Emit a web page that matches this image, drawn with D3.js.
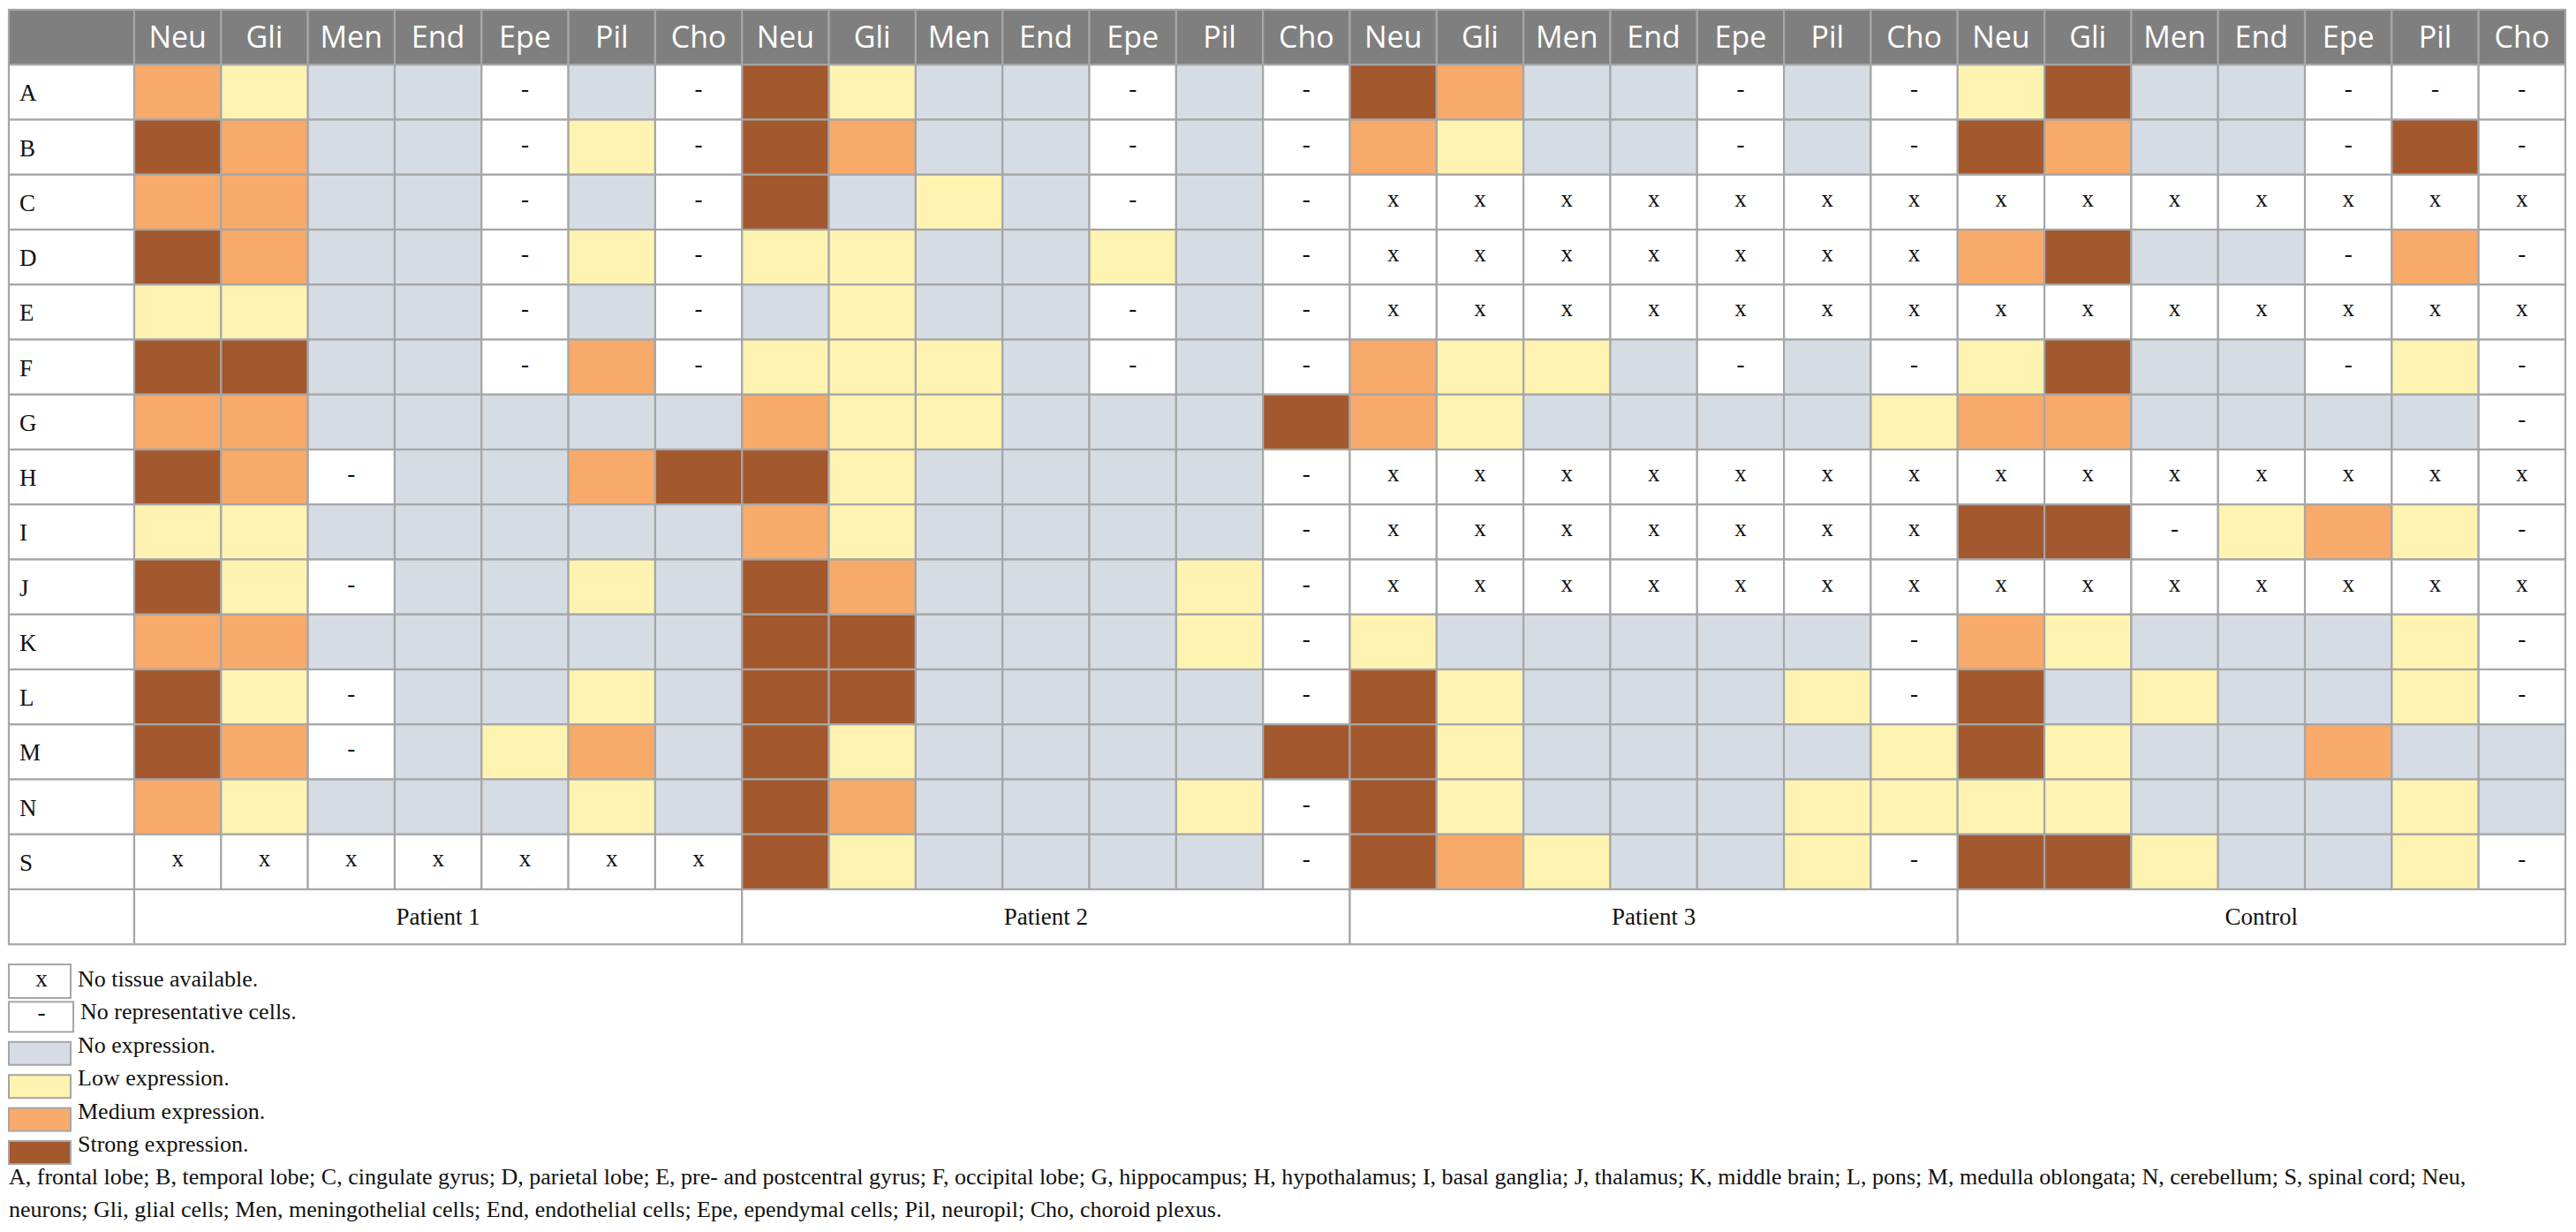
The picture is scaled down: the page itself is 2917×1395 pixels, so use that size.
<!DOCTYPE html>
<html>
<head>
<meta charset="utf-8">
<script src="https://cdn.jsdelivr.net/npm/d3@7"></script>
<style>
  body { margin: 0; background: #fff; }
  svg { display: block; }
</style>
</head>
<body>
<div id="table-div"></div>
<script>
// Table data
const regions = ['A', 'B', 'C', 'D', 'E', 'F', 'G', 'H', 'I', 'J', 'K', 'L', 'M', 'N', 'S'];
const cellTypes = ['Neu', 'Gli', 'Men', 'End', 'Epe', 'Pil', 'Cho'];
const groups = ['Patient 1', 'Patient 2', 'Patient 3', 'Control'];

// one string per region, one letter per cell type
// S strong, M medium, L low, N none, - no representative cells, x no tissue
const patient1 = ['MLNN-N-', 'SMNN-L-', 'MMNN-N-', 'SMNN-L-', 'LLNN-N-', 'SSNN-M-', 'MMNNNNN',
  'SM-NNMS', 'LLNNNNN', 'SL-NNLN', 'MMNNNNN', 'SL-NNLN', 'SM-NLMN', 'MLNNNLN', 'xxxxxxx'];
const patient2 = ['SLNN-N-', 'SMNN-N-', 'SNLN-N-', 'LLNNLN-', 'NLNN-N-', 'LLLN-N-', 'MLLNNNS',
  'SLNNNN-', 'MLNNNN-', 'SMNNNL-', 'SSNNNL-', 'SSNNNN-', 'SLNNNNS', 'SMNNNL-', 'SLNNNN-'];
const patient3 = ['SMNN-N-', 'MLNN-N-', 'xxxxxxx', 'xxxxxxx', 'xxxxxxx', 'MLLN-N-', 'MLNNNNL',
  'xxxxxxx', 'xxxxxxx', 'xxxxxxx', 'LNNNNN-', 'SLNNNL-', 'SLNNNNL', 'SLNNNLL', 'SMLNNL-'];
const control = ['LSNN---', 'SMNN-S-', 'xxxxxxx', 'MSNN-M-', 'xxxxxxx', 'LSNN-L-', 'MMNNNN-',
  'xxxxxxx', 'SS-LML-', 'xxxxxxx', 'MLNNNL-', 'SNLNNL-', 'SLNNMNN', 'LLNNNLN', 'SSLNNL-'];

const levelCodes = ['x', '-', 'N', 'L', 'M', 'S'];
const levelLabels = ['No tissue available.', 'No representative cells.', 'No expression.',
  'Low expression.', 'Medium expression.', 'Strong expression.'];

const footnotes = [
  'A, frontal lobe; B, temporal lobe; C, cingulate gyrus; D, parietal lobe; E, pre- and postcentral gyrus; F, occipital lobe; G, hippocampus; H, hypothalamus; I, basal ganglia; J, thalamus; K, middle brain; L, pons; M, medulla oblongata; N, cerebellum; S, spinal cord; Neu,',
  'neurons; Gli, glial cells; Men, meningothelial cells; End, endothelial cells; Epe, ependymal cells; Pil, neuropil; Cho, choroid plexus.'
];

// Layout constants
const WIDTH = 2917;
const HEIGHT = 1395;
const TABLE = { left: 10, top: 11, labelWidth: 142, right: 2905, rowHeight: 62.25 };
const GRID = '#a6a6a6';
const HEADER_FILL = '#7f7f7f';
const SERIF = '"Liberation Serif", "DejaVu Serif", serif';
const SANS = '"Open Sans", "Noto Sans", sans-serif';

setup();

function setup() {
  const svg = d3.select('#table-div')
    .append('svg')
    .attr('width', WIDTH)
    .attr('height', HEIGHT);

  const groupData = [patient1, patient2, patient3, control];

  const colour = d3.scaleOrdinal()
    .domain(levelCodes)
    .range(['#ffffff', '#ffffff', '#d6dce4', '#fef3b1', '#f8aa6b', '#a3582e']);

  // one band per cell type per group
  const columnKeys = [];
  groups.forEach(g => cellTypes.forEach(c => columnKeys.push(g + '|' + c)));

  const xScale = d3.scaleBand()
    .domain(columnKeys)
    .range([TABLE.left + TABLE.labelWidth, TABLE.right]);

  const rowKeys = ['header', ...regions, 'footer'];
  const yScale = d3.scaleBand()
    .domain(rowKeys)
    .range([TABLE.top, TABLE.top + rowKeys.length * TABLE.rowHeight]);

  const cw = xScale.bandwidth();
  const rh = yScale.bandwidth();

  // flatten the cells
  const cells = [];
  groups.forEach((g, gi) => {
    regions.forEach((r, ri) => {
      groupData[gi][ri].split('').forEach((code, ci) => {
        cells.push({ group: g, region: r, type: cellTypes[ci], code: code });
      });
    });
  });

  // Header row
  const header = svg.append('g').attr('class', 'header');
  header.append('rect')
    .attr('x', TABLE.left)
    .attr('y', yScale('header'))
    .attr('width', TABLE.labelWidth)
    .attr('height', rh)
    .attr('fill', HEADER_FILL)
    .attr('stroke', GRID)
    .attr('stroke-width', 2.2);

  const headCells = header.selectAll('.head-cell')
    .data(columnKeys)
    .enter()
    .append('g')
    .attr('class', 'head-cell');

  headCells.append('rect')
    .attr('x', d => xScale(d))
    .attr('y', yScale('header'))
    .attr('width', cw)
    .attr('height', rh)
    .attr('fill', HEADER_FILL)
    .attr('stroke', GRID)
    .attr('stroke-width', 2.2);

  headCells.append('text')
    .attr('x', d => xScale(d) + cw / 2)
    .attr('y', yScale('header') + rh / 2 + 12)
    .attr('text-anchor', 'middle')
    .attr('fill', '#fff')
    .style('font-family', SANS)
    .style('font-size', '34px')
    .text(d => d.split('|')[1]);

  // Row labels
  const labels = svg.append('g').attr('class', 'row-labels');
  labels.selectAll('rect')
    .data(regions)
    .enter()
    .append('rect')
    .attr('x', TABLE.left)
    .attr('y', d => yScale(d))
    .attr('width', TABLE.labelWidth)
    .attr('height', rh)
    .attr('fill', '#fff')
    .attr('stroke', GRID)
    .attr('stroke-width', 2.2);

  labels.selectAll('text')
    .data(regions)
    .enter()
    .append('text')
    .attr('x', TABLE.left + 12)
    .attr('y', d => yScale(d) + rh / 2 + 10)
    .style('font-family', SERIF)
    .style('font-size', '27px')
    .attr('fill', '#111')
    .text(d => d);

  // Body cells
  const body = svg.append('g').attr('class', 'cells');
  const cellG = body.selectAll('.cell')
    .data(cells)
    .enter()
    .append('g')
    .attr('class', 'cell');

  cellG.append('rect')
    .attr('x', d => xScale(d.group + '|' + d.type))
    .attr('y', d => yScale(d.region))
    .attr('width', cw)
    .attr('height', rh)
    .attr('fill', d => colour(d.code))
    .attr('stroke', GRID)
    .attr('stroke-width', 2.2);

  cellG.filter(d => d.code === 'x' || d.code === '-')
    .append('text')
    .attr('x', d => xScale(d.group + '|' + d.type) + cw / 2)
    .attr('y', d => yScale(d.region) + rh / 2 + 5)
    .attr('text-anchor', 'middle')
    .style('font-family', SERIF)
    .style('font-size', '27px')
    .attr('fill', '#111')
    .text(d => d.code);

  // Footer row with group names
  const footer = svg.append('g').attr('class', 'footer');
  footer.append('rect')
    .attr('x', TABLE.left)
    .attr('y', yScale('footer'))
    .attr('width', TABLE.labelWidth)
    .attr('height', rh)
    .attr('fill', '#fff')
    .attr('stroke', GRID)
    .attr('stroke-width', 2.2);

  footer.selectAll('.group-cell')
    .data(groups)
    .enter()
    .append('rect')
    .attr('class', 'group-cell')
    .attr('x', g => xScale(g + '|' + cellTypes[0]))
    .attr('y', yScale('footer'))
    .attr('width', cw * cellTypes.length)
    .attr('height', rh)
    .attr('fill', '#fff')
    .attr('stroke', GRID)
    .attr('stroke-width', 2.2);

  footer.selectAll('text')
    .data(groups)
    .enter()
    .append('text')
    .attr('x', g => xScale(g + '|' + cellTypes[0]) + cw * cellTypes.length / 2)
    .attr('y', yScale('footer') + rh / 2 + 9)
    .attr('text-anchor', 'middle')
    .style('font-family', SERIF)
    .style('font-size', '27px')
    .attr('fill', '#111')
    .text(g => g);

  // Legend
  const legendTop = 1117;
  const legendStep = 37.4;
  const legend = svg.append('g').attr('class', 'legend');
  const items = legend.selectAll('.legend-item')
    .data(levelCodes)
    .enter()
    .append('g')
    .attr('class', 'legend-item')
    .attr('transform', (d, i) => `translate(0, ${legendTop + i * legendStep})`);

  items.append('rect')
    .attr('x', TABLE.left)
    .attr('y', (d, i) => i === 0 ? -25 : i === 1 ? -20 : -12)
    .attr('width', (d, i) => i === 1 ? 73 : 70)
    .attr('height', (d, i) => i === 0 ? 38 : i === 1 ? 34 : 26)
    .attr('fill', d => colour(d))
    .attr('stroke', GRID)
    .attr('stroke-width', 2);

  items.filter(d => d === 'x' || d === '-')
    .append('text')
    .attr('x', TABLE.left + 37)
    .attr('y', (d, i) => i === 0 ? 0 : 1)
    .attr('text-anchor', 'middle')
    .style('font-family', SERIF)
    .style('font-size', '27px')
    .attr('fill', '#111')
    .text(d => d);

  items.append('text')
    .attr('x', (d, i) => i === 1 ? 91 : 88)
    .attr('y', 0)
    .style('font-family', SERIF)
    .style('font-size', '26px')
    .attr('fill', '#111')
    .text((d, i) => levelLabels[i]);

  // Footnote
  svg.append('g')
    .attr('class', 'footnote')
    .selectAll('text')
    .data(footnotes)
    .enter()
    .append('text')
    .attr('x', TABLE.left)
    .attr('y', (d, i) => 1341 + i * 37)
    .style('font-family', SERIF)
    .style('font-size', '26px')
    .attr('fill', '#111')
    .text(d => d);

  // keep the long first footnote line inside the page
  svg.selectAll('.footnote text').each(function () {
    const len = this.getComputedTextLength();
    if (len > TABLE.right - TABLE.left) {
      d3.select(this)
        .attr('textLength', TABLE.right - TABLE.left)
        .attr('lengthAdjust', 'spacingAndGlyphs');
    }
  });
}
</script>
</body>
</html>
